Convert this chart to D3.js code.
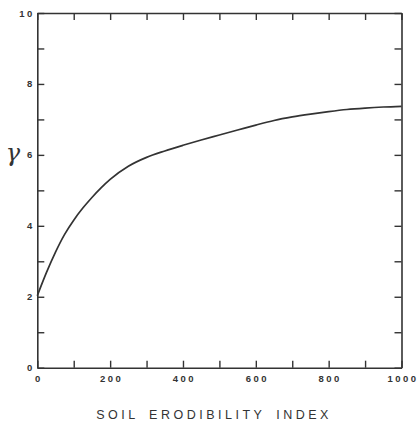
<!DOCTYPE html>
<html>
  <head>
    <meta charset="utf-8" />
    <title>Gamma vs Soil Erodibility Index</title>
    <script src="https://d3js.org/d3.v7.min.js" charset="utf-8"></script>
    <style>
      html,
      body {
        margin: 0;
        padding: 0;
        background-color: #ffffff;
        font-family: "Liberation Sans", Arial, sans-serif;
      }
    </style>
  </head>
  <body>
    <svg id="chart"></svg>
    <script>
      // Data
      const erodibility = [
        0, 25, 50, 75, 100, 125, 150, 175, 200, 250, 300, 350, 400, 450, 500,
        550, 600, 650, 700, 750, 800, 850, 900, 950, 1000,
      ];
      const gamma = [
        2.03, 2.68, 3.26, 3.76, 4.16, 4.5, 4.8, 5.07, 5.31, 5.68, 5.93, 6.11,
        6.27, 6.42, 6.56, 6.7, 6.84, 6.97, 7.07, 7.15, 7.22, 7.28, 7.32, 7.35,
        7.37,
      ];
      const xLabelTicks = [0, 200, 400, 600, 800, 1000];
      const yLabelTicks = [0, 2, 4, 6, 8, 10];

      // SVG size
      const width = 419;
      const height = 425;

      // Plot frame
      const plotLeft = 37.3;
      const plotRight = 401.5;
      const plotTop = 13;
      const plotBottom = 367.7;
      const ink = "#333";

      const svg = d3
        .select("#chart")
        .attr("width", width)
        .attr("height", height);

      const x = d3.scaleLinear().domain([0, 1000]).range([plotLeft, plotRight]);
      const y = d3.scaleLinear().domain([0, 10]).range([plotBottom, plotTop]);

      const xTicks = d3.range(0, 1001, 100);
      const yTicks = d3.range(0, 11, 1);
      const tickLen = 7;

      // Axes: ticks pointing inward on all four sides
      const axisStyle = (g) => {
        g.select(".domain").attr("stroke", ink).attr("stroke-width", 1.6);
        g.selectAll(".tick line")
          .attr("stroke", ink)
          .attr("stroke-width", 1.4);
      };

      svg
        .append("g")
        .attr("transform", `translate(0,${plotBottom})`)
        .call(
          d3
            .axisBottom(x)
            .tickValues(xTicks)
            .tickSize(-tickLen)
            .tickSizeOuter(0)
            .tickFormat("")
        )
        .call(axisStyle);

      svg
        .append("g")
        .attr("transform", `translate(0,${plotTop})`)
        .call(
          d3
            .axisTop(x)
            .tickValues(xTicks)
            .tickSize(-tickLen)
            .tickSizeOuter(0)
            .tickFormat("")
        )
        .call(axisStyle);

      svg
        .append("g")
        .attr("transform", `translate(${plotLeft},0)`)
        .call(
          d3
            .axisLeft(y)
            .tickValues(yTicks)
            .tickSize(-tickLen)
            .tickSizeOuter(0)
            .tickFormat("")
        )
        .call(axisStyle);

      svg
        .append("g")
        .attr("transform", `translate(${plotRight},0)`)
        .call(
          d3
            .axisRight(y)
            .tickValues(yTicks)
            .tickSize(-tickLen)
            .tickSizeOuter(0)
            .tickFormat("")
        )
        .call(axisStyle);

      // Tick labels
      svg
        .selectAll(".xlab")
        .data(xLabelTicks)
        .enter()
        .append("text")
        .attr("class", "xlab")
        .attr("x", (d) => x(d) + 1.5)
        .attr("y", plotBottom + 14.5)
        .attr("text-anchor", "middle")
        .attr("font-size", 9.5)
        .attr("font-weight", "bold")
        .attr("letter-spacing", 2.5)
        .attr("fill", ink)
        .text((d) => d);

      svg
        .selectAll(".ylab")
        .data(yLabelTicks)
        .enter()
        .append("text")
        .attr("class", "ylab")
        .attr("x", plotLeft - 2.5)
        .attr("y", (d) => y(d) + 3.5)
        .attr("text-anchor", "end")
        .attr("font-size", 9.5)
        .attr("font-weight", "bold")
        .attr("letter-spacing", 2.5)
        .attr("fill", ink)
        .text((d) => d);

      // Curve
      const line = d3
        .line()
        .x((d, i) => x(erodibility[i]))
        .y((d) => y(d))
        .curve(d3.curveMonotoneX);

      svg
        .append("path")
        .datum(gamma)
        .attr("fill", "none")
        .attr("stroke", ink)
        .attr("stroke-width", 1.7)
        .attr("d", line);

      // Axis titles
      svg
        .append("text")
        .attr("x", 214)
        .attr("y", 419)
        .attr("text-anchor", "middle")
        .attr("font-size", 12.5)
        .attr("letter-spacing", 3.5)
        .attr("word-spacing", 4)
        .attr("fill", ink)
        .text("SOIL ERODIBILITY INDEX");

      svg
        .append("text")
        .attr("x", 13)
        .attr("y", 161)
        .attr("text-anchor", "middle")
        .attr("font-size", 24)
        .attr("font-style", "italic")
        .attr("font-family", "'DejaVu Serif', serif")
        .attr("fill", ink)
        .text("γ");
    </script>
  </body>
</html>
